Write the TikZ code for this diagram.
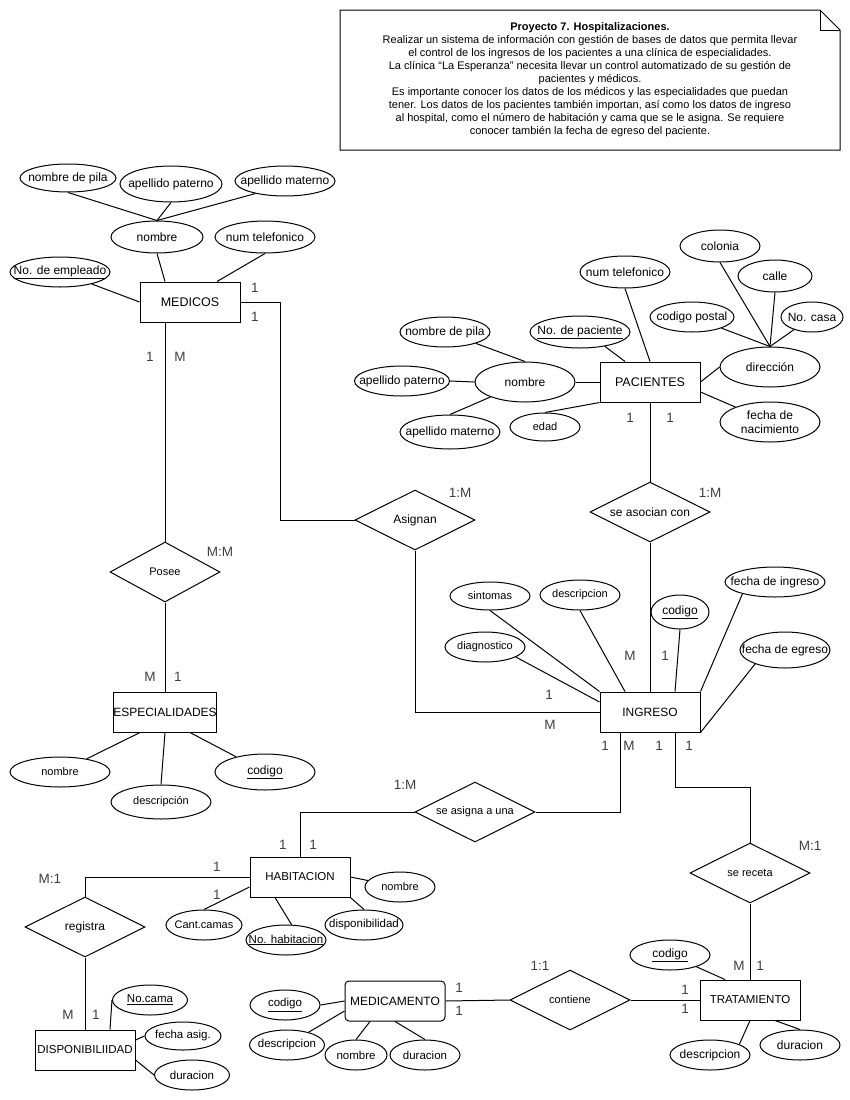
\documentclass[tikz,border=0pt]{standalone}
\usepackage{fontspec}
\setmainfont{Liberation Sans}
\usetikzlibrary{shapes.geometric}
\newcommand\fs[1]{\fontsize{#1}{#1}\selectfont}
\tikzset{
  ent/.style={draw, line width=1pt, minimum width=100pt, minimum height=40pt, inner sep=0pt, font=\fs{12}},
  attrshape/.style={draw, ellipse, line width=1pt, inner sep=0pt},
  relshape/.style={draw, diamond, line width=1pt, minimum width=120pt, minimum height=60pt, inner sep=0pt},
  ln/.style={line width=1pt},
  card/.style={font=\fs{13.5}, text=black!75, inner sep=0pt},
}
% \attr[size]{name}{x}{y}{w}{h}{text}
\newcommand\attr[7][12]{%
  \node[attrshape, minimum width=#5pt, minimum height=#6pt] (#2) at (#3,#4) {};
  \node[font=\fs{#1}, inner sep=0pt] (#2t) at (#2.center) {#7};}
% \relat[size]{name}{x}{y}{width}{text}
\newcommand\relat[6][11]{%
  \node[relshape, minimum width=#5pt] (#2) at (#3,#4) {};
  \node[font=\fs{#1}, inner sep=0pt] (#2t) at (#2.center) {#6};}
\begin{document}
\begin{tikzpicture}[x=1pt,y=-1pt]
\useasboundingbox (0,0) rectangle (850,1100);
\fill[white] (0,0) rectangle (850,1100);

% ---------- note ----------
\draw[ln] (340,10) -- (820,10) -- (840,30) -- (840,150) -- (340,150) -- cycle;
\draw[ln] (820,10) -- (820,30) -- (840,30);
\node[align=center, inner sep=0pt, font=\fontsize{11}{13}\selectfont] (note) at (590,80) {%
\textbf{Proyecto 7. Hospitalizaciones.}\\
Realizar un sistema de información con gestión de bases de datos que permita llevar\\
el control de los ingresos de los pacientes a una clínica de especialidades.\\
La clínica “La Esperanza” necesita llevar un control automatizado de su gestión de\\
pacientes y médicos.\\
Es importante conocer los datos de los médicos y las especialidades que puedan\\
tener. Los datos de los pacientes también importan, así como los datos de ingreso\\
al hospital, como el número de habitación y cama que se le asigna. Se requiere\\
conocer también la fecha de egreso del paciente.};

% ---------- entities ----------
\node[ent, font=\fs{12.5}] (medicos) at (190,302) {MEDICOS};
\node[ent, font=\fs{12.5}] (pac) at (650,382) {PACIENTES};
\node[ent] (esp) at (165,712) {ESPECIALIDADES};
\node[ent] (ingreso) at (650,712) {INGRESO};
\node[ent, font=\fs{11.5}] (hab) at (300,877) {HABITACION};
\node[ent, font=\fs{11.5}] (dispo) at (85,1050) {DISPONIBILIIDAD};
\node[ent, rounded corners=4pt] (medi) at (395,1001) {MEDICAMENTO};
\node[ent, font=\fs{11.5}] (trat) at (750,1000) {TRATAMIENTO};

% ---------- relationships ----------
\relat[12]{asig}{415}{520}{120}{Asignan}
\relat{posee}{165}{572}{110}{Posee}
\relat[12]{asoc}{650}{512}{120}{se asocian con}
\relat{sasig}{475}{812}{120}{se asigna a una}
\relat{srec}{750}{873}{120}{se receta}
\relat[12]{reg}{85}{927}{120}{registra}
\relat{cont}{570}{1000}{120}{contiene}

% ---------- attributes MEDICOS ----------
\attr{npM}{68}{178}{96}{28}{nombre de pila}
\attr{apM}{171}{184}{102}{36}{apellido paterno}
\attr{amM}{285}{181}{100}{30}{apellido materno}
\attr{nomM}{157}{237}{92}{32}{nombre}
\attr{telM}{265}{237}{100}{32}{num telefonico}
\attr{empM}{60}{272}{100}{30}{\underline{No. de empleado}}

% ---------- attributes PACIENTES ----------
\attr{npP}{445}{332}{90}{30}{nombre de pila}
\attr{apP}{402}{381}{95}{30}{apellido paterno}
\attr{amP}{450}{432}{100}{34}{apellido materno}
\attr{nomP}{525}{382}{100}{40}{nombre}
\attr[11]{edad}{545}{427}{70}{28}{edad}
\attr{numP}{580}{332}{100}{32}{\underline{No. de paciente}}
\attr{telP}{625}{272}{90}{32}{num telefonico}
\attr{col}{720}{246}{80}{32}{colonia}
\attr{calle}{775}{276}{74}{32}{calle}
\attr{cp}{692}{317}{84}{30}{codigo postal}
\attr{casa}{812}{317}{62}{30}{No. casa}
\attr{dir}{770}{367}{100}{40}{dirección}
\node[attrshape, minimum width=100pt, minimum height=40pt] (fnac) at (770,422) {};
\node[font=\fontsize{12}{14}\selectfont, align=center, inner sep=0pt] (fnact) at (fnac.center) {fecha de\\nacimiento};

% ---------- attributes ESPECIALIDADES ----------
\attr[11]{nomE}{60}{772}{100}{30}{nombre}
\attr[11]{desE}{161}{802}{100}{34}{descripción}
\attr{codE}{265}{772}{100}{36}{\underline{codigo}}

% ---------- attributes INGRESO ----------
\attr[11]{sint}{490}{596}{80}{28}{sintomas}
\attr[11]{descI}{580}{595}{80}{30}{descripcion}
\attr{codI}{680}{612}{58}{34}{\underline{codigo}}
\attr[11]{diag}{485}{647}{80}{30}{diagnostico}
\attr{fing}{775}{582}{100}{30}{fecha de ingreso}
\attr{fegr}{785}{650}{90}{36}{fecha de egreso}

% ---------- attributes HABITACION ----------
\attr[11]{nomH}{400}{887}{70}{30}{nombre}
\attr[11.5]{disp}{364}{925}{78}{30}{disponibilidad}
\attr[11.5]{noH}{286}{940}{80}{30}{\underline{No. habitacion}}
\attr[11]{cant}{204}{925}{76}{30}{Cant.camas}

% ---------- attributes DISPONIBILIIDAD ----------
\attr[11.5]{nocama}{150}{1000}{75}{30}{\underline{No.cama}}
\attr[11.5]{fasig}{183}{1036}{76}{28}{fecha asig.}
\attr[11.5]{durD}{192}{1075}{75}{30}{duracion}

% ---------- attributes MEDICAMENTO ----------
\attr[11.5]{codM}{285}{1005}{70}{30}{\underline{codigo}}
\attr[11.5]{descM}{287}{1045}{75}{30}{descripcion}
\attr[11.5]{nomMed}{356}{1055}{62}{30}{nombre}
\attr[11.5]{durMed}{425}{1055}{70}{30}{duracion}

% ---------- attributes TRATAMIENTO ----------
\attr{codT}{670}{955}{80}{30}{\underline{codigo}}
\attr{descT}{710}{1055}{80}{30}{descripcion}
\attr{durT}{800}{1045}{80}{30}{duracion}

% ---------- attribute connectors ----------
\draw[ln] (npM.south) -- (nomM.north);
\draw[ln] (apM.south) -- (nomM.north);
\draw[ln] (amM.203) -- (nomM.north);
\draw[ln] (nomM.south) -- ([xshift=-25pt]medicos.north);
\draw[ln] (telM.south) -- ([xshift=27pt]medicos.north);
\draw[ln] (empM) -- (medicos.west);

\draw[ln] (npP) -- (nomP.north);
\draw[ln] (apP.east) -- (nomP.west);
\draw[ln] (amP.north) -- (nomP);
\draw[ln] (nomP.east) -- (pac.west);
\draw[ln] (edad.north) -- (pac.south west);
\draw[ln] (numP.-30) -- ([xshift=-25pt]pac.north);
\draw[ln] (telP.south) -- (pac.north);
\draw[ln] (pac.east) -- (dir.west);
\draw[ln] ([yshift=-10pt]pac.east) -- (fnac);
\draw[ln] (dir.north) -- (col.south);
\draw[ln] (dir.north) -- (calle.south);
\draw[ln] (dir.north) -- (cp);
\draw[ln] (dir.north) -- (casa);

\draw[ln] ([xshift=-25pt]esp.south) -- (nomE);
\draw[ln] (esp.south) -- (desE.north);
\draw[ln] ([xshift=25pt]esp.south) -- (codE);

\draw[ln] (sint.south) -- (ingreso.north west);
\draw[ln] (descI.south) -- ([xshift=-25pt]ingreso.north);
\draw[ln] (codI.south) -- ([xshift=25pt]ingreso.north);
\draw[ln] (fing.200) -- (ingreso.north east);
\draw[ln] (fegr.205) -- (ingreso.south east);
\draw[ln] (diag.-18) -- ([yshift=10pt]ingreso.west);

\draw[ln] (hab.east) -- (nomH);
\draw[ln] (hab.south east) -- (disp.north);
\draw[ln] ([xshift=-25pt]hab.south) -- (noH.70);
\draw[ln] ([yshift=-10pt]hab.west) -- (cant.north);

\draw[ln] (nocama.west) -- ([xshift=25pt]dispo.north);
\draw[ln] ([yshift=10pt]dispo.east) -- (fasig.west);
\draw[ln] ([yshift=-10pt]dispo.east) -- (durD.west);

\draw[ln] (codM.east) -- (medi.west);
\draw[ln] (descM) -- ([yshift=-10pt]medi.west);
\draw[ln] (nomMed.north) -- ([xshift=-25pt]medi.south);
\draw[ln] (durMed.north) -- (medi.south);

\draw[ln] (codT) -- ([xshift=-25pt]trat.north);
\draw[ln] (descT.20) -- (trat.south);
\draw[ln] (durT.north) -- ([xshift=25pt]trat.south);

% ---------- relationship connectors ----------
\draw[ln] (medicos.east) -- ++(40,0) |- (asig.west);
\draw[ln] (asig.south) |- (ingreso.west);
\draw[ln] ([xshift=-25pt]medicos.south) -- (posee.north);
\draw[ln] (posee.south) -- (esp.north);
\draw[ln] (pac.south) -- (asoc.north);
\draw[ln] (asoc.south) -- (ingreso.north);
\draw[ln] ([xshift=-30pt]ingreso.south) |- (sasig.east);
\draw[ln] ([xshift=25pt]ingreso.south) -- ++(0,55) -| (srec.north);
\draw[ln] (sasig.west) -| (hab.north);
\draw[ln] (hab.west) -| (reg.north);
\draw[ln] (reg.south) -- (dispo.north);
\draw[ln] (medi.east) -- (cont.west);
\draw[ln] (cont.east) -- (trat.west);
\draw[ln] (srec.south) -- (trat.north);

% ---------- cardinalities ----------
\node[card] (c1) at (255,288) {1};
\node[card] (c2) at (255,317) {1};
\node[card] (c3) at (150,357) {1};
\node[card] (c4) at (180,357) {M};
\node[card] (c5) at (220,552) {M:M};
\node[card] (c6) at (150,677) {M};
\node[card] (c7) at (178,677) {1};
\node[card] (c8) at (460,493) {1:M};
\node[card] (c9) at (549,695) {1};
\node[card] (c10) at (550,725) {M};
\node[card] (c11) at (630,418) {1};
\node[card] (c12) at (670,418) {1};
\node[card] (c13) at (710,493) {1:M};
\node[card] (c14) at (630,656) {M};
\node[card] (c15) at (665,656) {1};
\node[card] (c16) at (605,746) {1};
\node[card] (c17) at (629,746) {M};
\node[card] (c18) at (659,746) {1};
\node[card] (c19) at (689,746) {1};
\node[card] (c20) at (405,785) {1:M};
\node[card] (c21) at (283,845) {1};
\node[card] (c22) at (313,845) {1};
\node[card] (c23) at (217,867) {1};
\node[card] (c24) at (217,895) {1};
\node[card] (c25) at (50,879) {M:1};
\node[card] (c26) at (68,1015) {M};
\node[card] (c27) at (96,1015) {1};
\node[card] (c28) at (459,988) {1};
\node[card] (c29) at (459,1011) {1};
\node[card] (c30) at (540,966) {1:1};
\node[card] (c31) at (685,990) {1};
\node[card] (c32) at (685,1009) {1};
\node[card] (c33) at (810,846) {M:1};
\node[card] (c34) at (739,966) {M};
\node[card] (c35) at (760,966) {1};
\end{tikzpicture}
\end{document}
